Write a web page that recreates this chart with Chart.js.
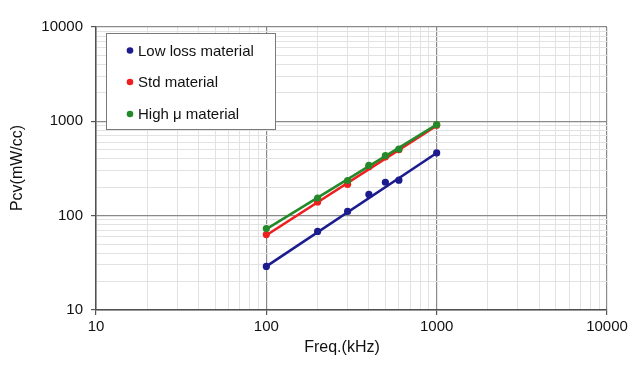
<!DOCTYPE html>
<html>
<head>
<meta charset="utf-8">
<script src="https://cdn.jsdelivr.net/npm/chart.js@4/dist/chart.umd.min.js"></script>
<style>
html,body{margin:0;padding:0;background:#fff;}
#wrap{width:640px;height:369px;position:relative;}
</style>
</head>
<body>
<div id="wrap"><canvas id="c" width="640" height="369"></canvas></div>
<script>
// ---- data ----
const freq = [100, 200, 300, 400, 500, 600, 1000];
const lowLoss = [29, 68, 111, 168, 226, 238, 462];
const stdMat = [63, 140, 215, 330, 420, 500, 910];
const highMu = [73, 154, 236, 342, 434, 509, 923];
// trend line end points (power-law fits as drawn)
const trendFreq = [100, 1000];
const lowLossFit = [29, 462];
const stdFit = [62, 900];
const highMuFit = [72, 925];
const seriesNames = ['Low loss material', 'Std material', 'High \u03bc material'];
const xTickValues = [10,20,30,40,50,60,70,80,90,100,200,300,400,500,600,700,800,900,1000,2000,3000,4000,5000,6000,7000,8000,9000,10000];
const yTickValues = xTickValues;
const majorTicks = [10, 100, 1000, 10000];
const xTitle = 'Freq.(kHz)';
const yTitle = 'Pcv(mW/cc)';

const colors = ['#1c1c8e', '#ee1f1f', '#25892a'];
const FONT = "'Liberation Sans', Arial, Helvetica, sans-serif";

function pts(xs, ys){ return xs.map((x,i)=>({x:x, y:ys[i]})); }

const datasets = [];
const fits = [lowLossFit, stdFit, highMuFit];
const vals = [lowLoss, stdMat, highMu];
const orders = [2, 1, 0];
for (let i = 0; i < 3; i++) {
  datasets.push({
    label: seriesNames[i] + ' fit',
    data: pts(trendFreq, fits[i]),
    showLine: true, borderColor: colors[i], borderWidth: 2.6,
    pointRadius: 0, order: orders[i] + 0.5
  });
  datasets.push({
    label: seriesNames[i],
    data: pts(freq, vals[i]),
    showLine: false, backgroundColor: colors[i], borderColor: colors[i],
    pointRadius: 3.6, pointBorderWidth: 0, order: orders[i]
  });
}

const isMajor = v => majorTicks.includes(v);

const legendPlugin = {
  id: 'boxLegend',
  afterDatasetsDraw(chart) {
    const ctx = chart.ctx;
    ctx.save();
    const x0 = 106.5, y0 = 33.5, w = 169, h = 96;
    ctx.fillStyle = '#ffffff';
    ctx.fillRect(x0, y0, w, h);
    ctx.strokeStyle = '#7a7a7a';
    ctx.lineWidth = 1;
    ctx.strokeRect(x0, y0, w, h);
    const rows = [50.5, 82, 114];
    ctx.font = '15px ' + FONT;
    ctx.textBaseline = 'middle';
    ctx.textAlign = 'left';
    for (let i = 0; i < 3; i++) {
      ctx.fillStyle = colors[i];
      ctx.beginPath();
      ctx.arc(130, rows[i], 3.3, 0, Math.PI * 2);
      ctx.fill();
      ctx.fillStyle = '#111';
      ctx.fillText(seriesNames[i], 138, rows[i] + 1);
    }
    // axis titles
    ctx.font = '16px ' + FONT;
    ctx.fillStyle = '#111';
    ctx.textAlign = 'center';
    ctx.fillText(xTitle, 342, 348);
    ctx.translate(18, 168);
    ctx.rotate(-Math.PI / 2);
    ctx.fillText(yTitle, 0, 0);
    ctx.restore();
  }
};

function logAxis(ticksArr, isX) {
  return {
    type: 'logarithmic',
    min: 10, max: 10000,
    afterBuildTicks(scale) { scale.ticks = ticksArr.map(v => ({value: v, major: isMajor(v)})); },
    afterFit(scale) { if (isX) scale.height = 59; else scale.width = 96; },
    ticks: {
      autoSkip: false, maxRotation: 0,
      color: '#111',
      font: {family: FONT, size: 15},
      padding: isX ? 3 : 8,
      callback: (v) => isMajor(v) ? String(v) : ''
    },
    grid: {
      drawTicks: true, tickLength: 5,
      color: ctx => isMajor(ctx.tick && ctx.tick.value) ? '#8a8a8a' : '#e2e2e2',
      tickColor: ctx => isMajor(ctx.tick && ctx.tick.value) ? '#555' : 'rgba(0,0,0,0)',
      lineWidth: ctx => isMajor(ctx.tick && ctx.tick.value) ? 1.2 : 1
    },
    border: {display: true, color: '#505050', width: 1.5},
    title: {display: false}
  };
}

new Chart(document.getElementById('c'), {
  type: 'scatter',
  data: {datasets},
  options: {
    responsive: false, animation: false, devicePixelRatio: 1,
    layout: {padding: {top: 27, right: 33, left: 0, bottom: 0}},
    plugins: {legend: {display: false}, tooltip: {enabled: false}},
    scales: {
      x: logAxis(xTickValues, true),
      y: logAxis(yTickValues, false)
    }
  },
  plugins: [legendPlugin]
});
</script>
</body>
</html>
